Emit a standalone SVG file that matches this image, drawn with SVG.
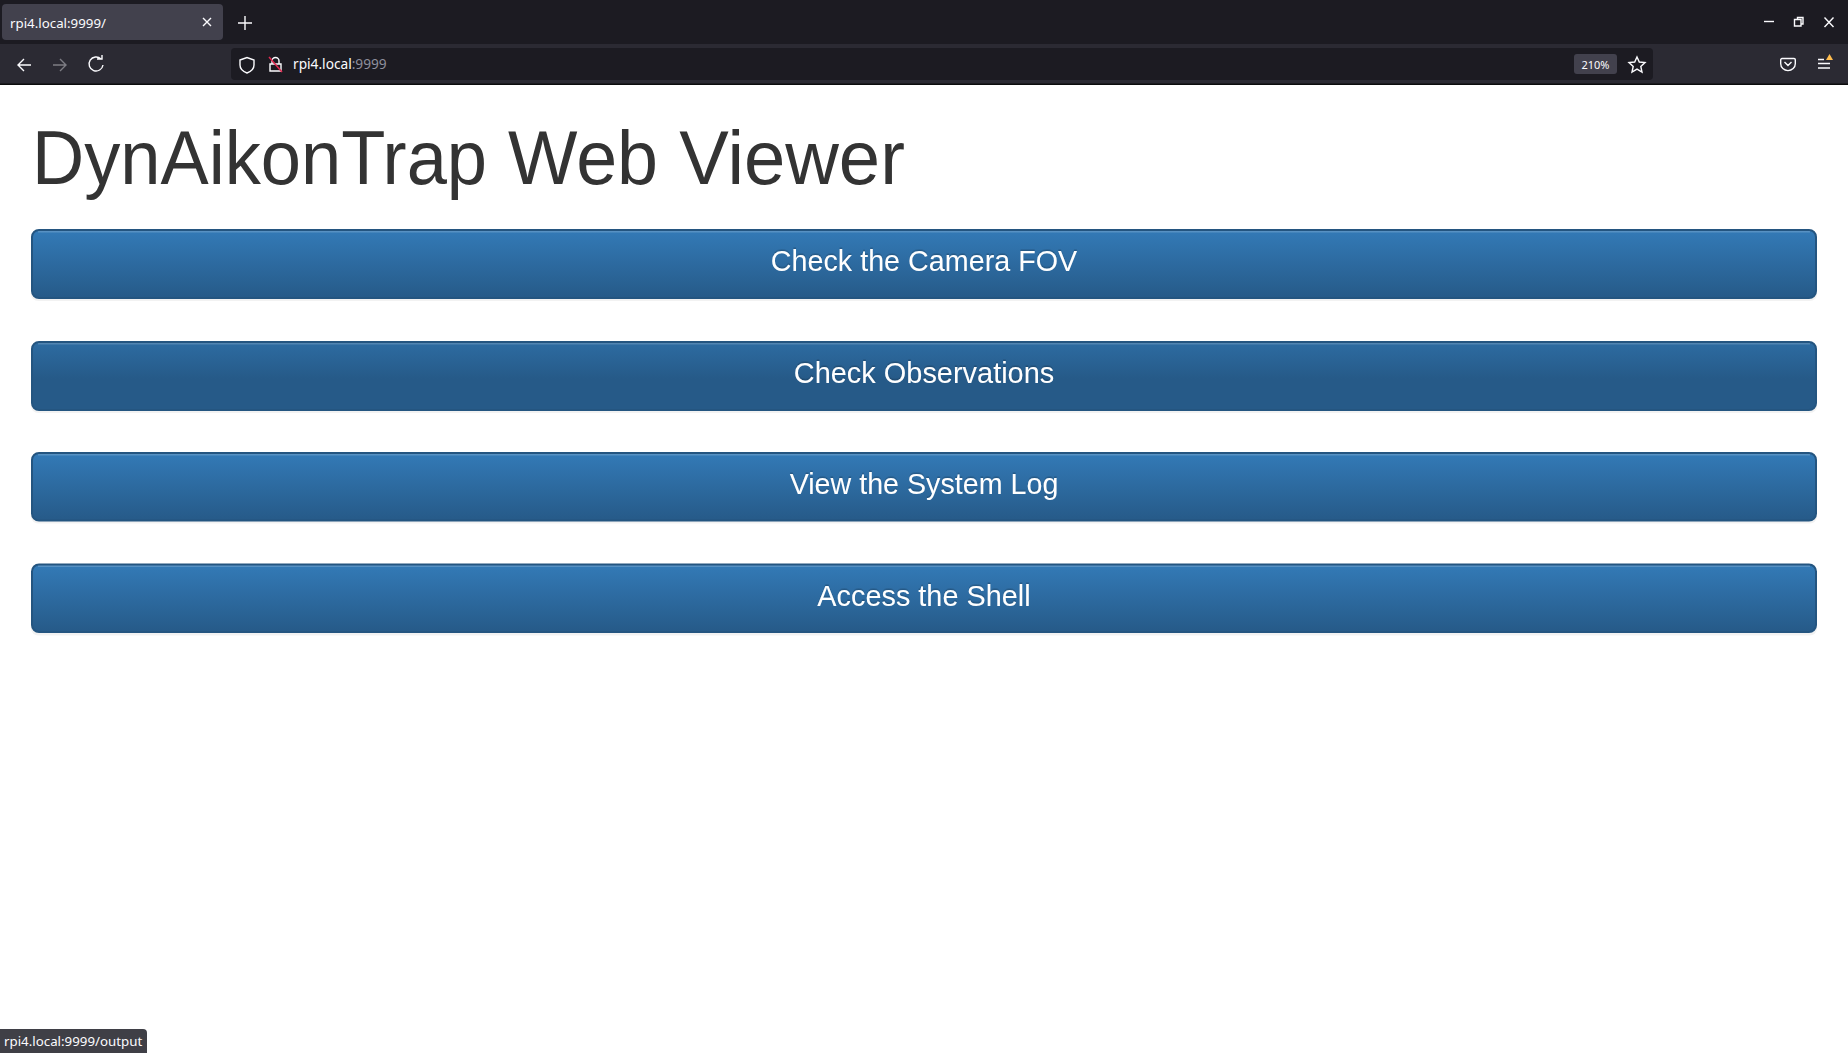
<svg xmlns="http://www.w3.org/2000/svg" width="1848" height="1053" viewBox="0 0 1848 1053">
<style>
.ui{font-family:"Noto Sans","Open Sans",sans-serif;fill:#fbfbfe}
.btn{stroke:#245580;stroke-width:2}
.hl{fill:none;stroke:#fff;stroke-opacity:.18;stroke-width:1.500}
.sh{fill:#000;fill-opacity:.05}
.bt{font-family:"Liberation Sans",Arial,sans-serif;font-size:29.4px;fill:#fff;text-anchor:middle;filter:url(#ts)}
.ic{fill:none;stroke:#fbfbfe;stroke-width:1.4}
</style>
<defs>
<linearGradient id="g1" x1="0" y1="0" x2="0" y2="1"><stop offset="0" stop-color="#337ab7"/><stop offset="1" stop-color="#265a88"/></linearGradient>
<linearGradient id="g2" x1="0" y1="0" x2="0" y2="1"><stop offset="0" stop-color="#2d6ca2"/><stop offset=".54" stop-color="#265a88"/><stop offset="1" stop-color="#265a88"/></linearGradient>
<filter id="ts" x="-5%" y="-20%" width="110%" height="140%"><feDropShadow dx="0" dy="-1.500" stdDeviation="0" flood-color="#000" flood-opacity=".2"/></filter>
</defs>
<rect width="1848" height="1053" fill="#fff"/>
<g id="browser-chrome">
<rect width="1848" height="44" fill="#1c1b22"/>
<rect y="44" width="1848" height="40" fill="#2b2a33"/>
<rect y="83.500" width="1848" height="1.500" fill="#0c0c0d"/>
<rect x="2" y="4" width="221" height="36" rx="4" fill="#42414d"/>
<text class="ui" x="10" y="28" font-size="13.300">rpi4.local:9999/</text>
<path class="ic" stroke-width="1.100" d="M203 18l8 8M211 18l-8 8"/>
<path class="ic" d="M238 23h14M245 16v14"/>
<path class="ic" d="M31 65H18M24 59l-6 6 6 6"/>
<path class="ic" opacity=".4" d="M53 65h13M60 59l6 6-6 6"/>
<path class="ic" d="M101 59a7 7 0 1 0 2 6M97 59h5v-4"/>
<rect x="231" y="48" width="1422" height="32" rx="4" fill="#1c1b22"/>
<path class="ic" d="M240 60l7-2.500 7 2.500v5c0 4-3 6.500-7 8-4-1.500-7-4-7-8z"/>
<path class="ic" d="M270 64v7h11v-7zM272 64v-3a3.500 3.500 0 0 1 7 0v3"/>
<path d="M269 57l13 15" stroke="#e22850" stroke-width="1.500" fill="none"/>
<text class="ui" x="293" y="69" font-size="13.700">rpi4.local<tspan fill="#8f8f9d">:9999</tspan></text>
<rect x="1574" y="54" width="43" height="20" rx="3" fill="#42414d"/>
<text class="ui" x="1595.500" y="69" font-size="11" text-anchor="middle">210%</text>
<path class="ic" d="M1637 57l2.300 5 5.700.6-4.200 3.800 1.200 5.600-5-2.900-5 2.900 1.200-5.600-4.200-3.800 5.700-.6z"/>
<path class="ic" d="M1782 58.500h12a1.300 1.300 0 0 1 1.300 1.300v4a7.300 6.800 0 0 1-14.600 0v-4a1.300 1.300 0 0 1 1.300-1.300zM1784.500 62l3.500 3.500 3.500-3.500"/>
<path class="ic" d="M1818 59.500h6M1818 63.500h12M1818 68h12"/>
<path d="M1826 60l3.500-6 3.500 6z" fill="#ffbd4f"/>
<path class="ic" stroke-width="1.100" d="M1764 21.500h10"/>
<path class="ic" stroke-width="1.100" d="M1794.500 19.500h6.500v6.500h-6.500zM1797.500 19.500v-2h5.500v6.500h-2"/>
<path class="ic" stroke-width="1.100" d="M1824.500 17.500l9 9.500M1833.500 17.500l-9 9.500"/>
</g>
<text id="title" y="184" font-family="'Liberation Sans',Arial,sans-serif" font-size="75.600" fill="#333"><tspan x="32" textLength="455" lengthAdjust="spacingAndGlyphs">DynAikonTrap</tspan> <tspan x="508" textLength="150" lengthAdjust="spacingAndGlyphs">Web</tspan> <tspan x="679.200" textLength="225.700" lengthAdjust="spacingAndGlyphs">Viewer</tspan></text>
<g id="btn-camera"><rect class="sh" x="31" y="230" width="1786" height="71" rx="7"/><rect class="btn" x="32" y="230" width="1784" height="68" rx="7" fill="url(#g1)"/><path class="hl" d="M38 231.750H1810"/><text class="bt" x="924" y="271" textLength="306.400" lengthAdjust="spacingAndGlyphs">Check the Camera FOV</text></g>
<g id="btn-observations"><rect class="sh" x="31" y="342" width="1786" height="71" rx="7"/><rect class="btn" x="32" y="342" width="1784" height="68" rx="7" fill="url(#g2)"/><path class="hl" d="M38 343.750H1810"/><text class="bt" x="924" y="383" textLength="260.500" lengthAdjust="spacingAndGlyphs">Check Observations</text></g>
<g id="btn-log"><rect class="sh" x="31" y="453" width="1786" height="70.500" rx="7"/><rect class="btn" x="32" y="453" width="1784" height="67.500" rx="7" fill="url(#g1)"/><path class="hl" d="M38 454.750H1810"/><text class="bt" x="924" y="494" textLength="268.700" lengthAdjust="spacingAndGlyphs">View the System Log</text></g>
<g id="btn-shell"><rect class="sh" x="31" y="564.500" width="1786" height="71" rx="7"/><rect class="btn" x="32" y="564.500" width="1784" height="67.500" rx="7" fill="url(#g1)"/><path class="hl" d="M38 566.250H1810"/><text class="bt" x="924" y="605.500" textLength="213.300" lengthAdjust="spacingAndGlyphs">Access the Shell</text></g>
<g id="status">
<path d="M0 1029h143a4 4 0 0 1 4 4v20H0z" fill="#3f3f46"/>
<text class="ui" x="4" y="1046" font-size="13.300">rpi4.local:9999/output</text>
</g>
</svg>
